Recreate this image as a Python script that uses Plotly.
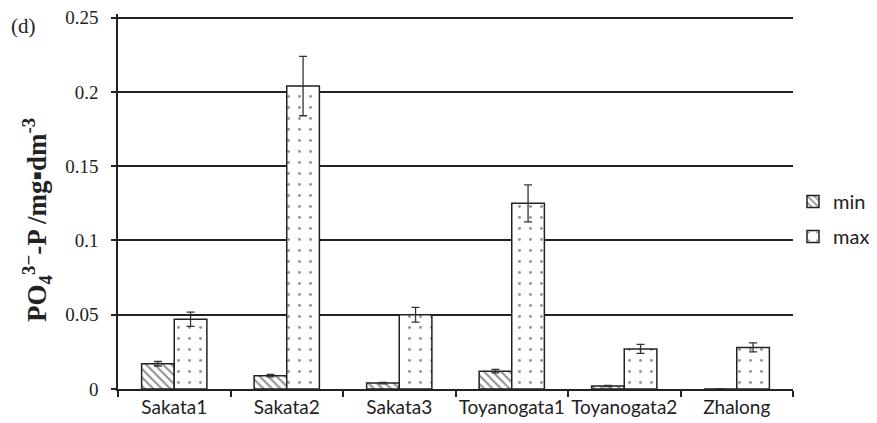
import plotly.graph_objects as go

categories = ["Sakata1", "Sakata2", "Sakata3", "Toyanogata1", "Toyanogata2", "Zhalong"]
min_vals = [0.017, 0.009, 0.004, 0.012, 0.002, 0.0]
min_err = [0.0015, 0.0008, 0.0005, 0.0012, 0.0004, 0.0]
max_vals = [0.047, 0.204, 0.050, 0.125, 0.027, 0.028]
max_err = [0.0048, 0.020, 0.005, 0.0125, 0.003, 0.003]
y_ticks = [0, 0.05, 0.1, 0.15, 0.2, 0.25]
y_tick_text = ["0", "0.05", "0.1", "0.15", "0.2", "0.25"]

SANS = "Lato, Open Sans, sans-serif"
SERIF = "Liberation Serif, Times New Roman, serif"

# screen geometry (page body has 8px default margin)
OFF = 8
PL, PR, PT, PB = 118, 793, 14, 389  # plot area in screen px


def px_x(x):
    return (x - PL) / (PR - PL)


def px_y(y):
    return (PB - y) / (PB - PT)


fig = go.Figure()
fig.add_trace(go.Bar(
    x=categories, y=min_vals, name="min", legendgroup="a",
    marker=dict(color="white", line=dict(color="#222", width=1.5),
                pattern=dict(shape="\\", fgcolor="#222", bgcolor="white", size=6, solidity=0.35)),
    error_y=dict(type="data", array=min_err, visible=True, color="#333", thickness=1.3, width=4),
))
fig.add_trace(go.Bar(
    x=categories, y=max_vals, name="max", legendgroup="b",
    marker=dict(color="white", line=dict(color="#222", width=1.5),
                pattern=dict(shape=".", fgcolor="#222", bgcolor="white", size=11, solidity=0.05)),
    error_y=dict(type="data", array=max_err, visible=True, color="#333", thickness=1.3, width=4),
))

W, H = 877 - OFF, 423 - OFF
fig.update_layout(
    width=W, height=H,
    margin=dict(l=PL - OFF, r=W - (PR - OFF), t=PT - OFF, b=H - (PB - OFF), autoexpand=False),
    paper_bgcolor="white", plot_bgcolor="white",
    barmode="group", bargap=0.42, bargroupgap=0,
    showlegend=True,
    legend=dict(x=px_x(793), y=px_y(182), xanchor="left", yanchor="top",
                font=dict(family=SANS, size=20, color="#222"),
                itemwidth=30,
                traceorder="grouped", tracegroupgap=6, bgcolor="rgba(0,0,0,0)"),
    xaxis=dict(showline=True, linecolor="#222", linewidth=1.5, ticks="outside",
               tickson="boundaries", ticklen=6, tickcolor="#222", tickwidth=1.5,
               tickangle=0,
               tickfont=dict(family=SANS, size=19, color="#222"),
               showgrid=False, automargin=False),
    yaxis=dict(range=[0, 0.2525], tickvals=y_ticks, ticktext=y_tick_text,
               showline=True, linecolor="#222", linewidth=1.5, ticks="outside",
               ticklen=5, tickcolor="#222", tickwidth=1.5, ticklabelstandoff=9,
               ticklabeloverflow="allow",
               showgrid=True, gridcolor="#222", gridwidth=1.5, zeroline=False,
               automargin=False,
               tickfont=dict(family=SERIF, size=19, color="#222")),
)
fig.add_annotation(text="<b>PO<sub>4</sub><sup>3−</sup>-P /mg▪dm<sup>-3</sup></b>",
                   xref="paper", yref="paper", x=px_x(37), y=px_y(220),
                   xanchor="center", yanchor="middle", textangle=-90, showarrow=False,
                   font=dict(family=SERIF, size=27, color="#222"))
fig.add_annotation(text="(d)", xref="paper", yref="paper",
                   x=px_x(23), y=px_y(26), xanchor="center", yanchor="middle",
                   showarrow=False,
                   font=dict(family=SERIF, size=21, color="#222"))

fig.write_html("out.html")
